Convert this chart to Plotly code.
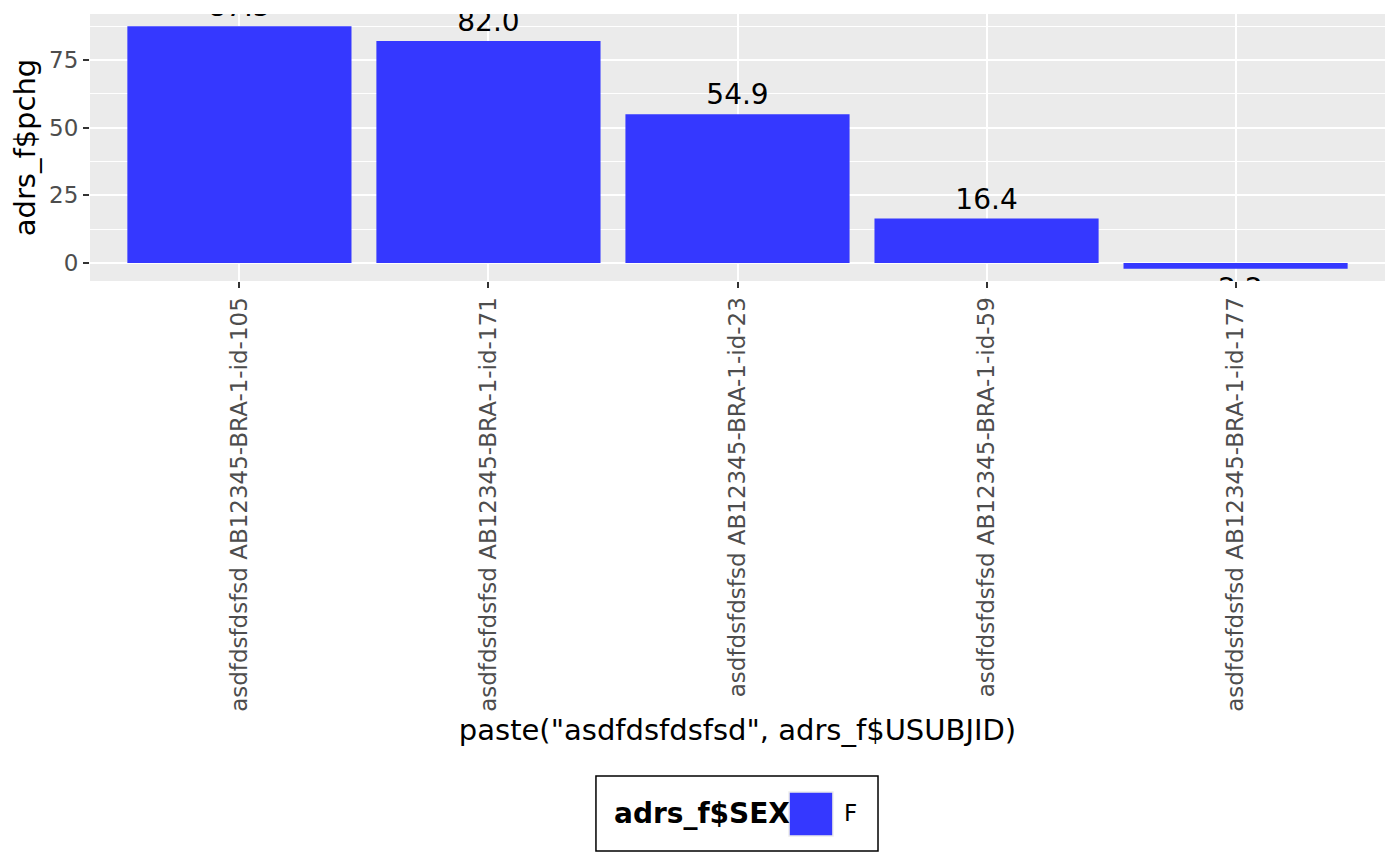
import plotly.graph_objects as go

# data
subjects = ["AB12345-BRA-1-id-105", "AB12345-BRA-1-id-171", "AB12345-BRA-1-id-23",
            "AB12345-BRA-1-id-59", "AB12345-BRA-1-id-177"]
pchg = [87.5, 82.0, 54.9, 16.4, -2.2]
sex = ["F", "F", "F", "F", "F"]

BAR = "#3538FF"
FONT = "DejaVu Sans"

labels = ["asdfdsfdsfsd " + s for s in subjects]
lo, hi = min(pchg), max(pchg)
pad = (hi - lo) * 0.05

fig = go.Figure()
fig.add_trace(go.Bar(
    x=labels, y=pchg, name="F",
    marker=dict(color=BAR, line=dict(width=0)),
    text=["%.1f" % v for v in pchg], textposition="outside",
    textfont=dict(family=FONT, size=28, color="black"),
    cliponaxis=True, showlegend=False,
))

fig.update_layout(
    width=1400, height=866,
    margin=dict(l=82, r=23, t=6, b=593, autoexpand=False),
    paper_bgcolor="white", plot_bgcolor="#EBEBEB",
    bargap=0.1, showlegend=False,
    font=dict(family=FONT, size=23, color="#4D4D4D"),
    xaxis=dict(
        range=[-0.6, len(labels) - 0.4], tickangle=-90,
        ticks="outside", ticklen=6, tickwidth=2, tickcolor="#333333",
        showgrid=True, gridcolor="white", gridwidth=2, zeroline=False,
        tickfont=dict(size=23, color="#4D4D4D"), automargin=False,
        title=dict(text='paste("asdfdsfdsfsd", adrs_f$USUBJID)',
                   font=dict(size=29, color="black"), standoff=8),
    ),
    yaxis=dict(
        range=[lo - pad, hi + pad], tickvals=[0, 25, 50, 75],
        ticks="outside", ticklen=6, tickwidth=2, tickcolor="#333333",
        showgrid=True, gridcolor="white", gridwidth=2, zeroline=False,
        minor=dict(tickvals=[12.5, 37.5, 62.5, 87.5], showgrid=True,
                   gridcolor="white", gridwidth=1, ticks=""),
        tickfont=dict(size=23, color="#4D4D4D"), automargin=False,
        title=dict(text="adrs_f$pchg", font=dict(size=29, color="black"), standoff=6),
    ),
)

# legend drawn by hand to match the ggplot-style box
fig.add_shape(type="rect", xref="paper", yref="paper",
              x0=0.3907, x1=0.6085, y0=-2.1348, y1=-1.8539,
              line=dict(color="black", width=1.5), fillcolor="white")
fig.add_annotation(text="<b>adrs_f$SEX</b>", xref="paper", yref="paper",
                   x=0.4031, y=-1.994, xanchor="left", yanchor="middle",
                   showarrow=False, font=dict(family=FONT, size=28, color="black"))
fig.add_shape(type="rect", xref="paper", yref="paper",
              x0=0.5398, x1=0.5737, y0=-2.0787, y1=-1.9139,
              line=dict(color="#EBEBEB", width=1.5), fillcolor=BAR)
fig.add_annotation(text=sex[0], xref="paper", yref="paper",
                   x=0.5869, y=-1.994, xanchor="center", yanchor="middle",
                   showarrow=False, font=dict(family=FONT, size=23, color="black"))

fig.write_html("out.html")
